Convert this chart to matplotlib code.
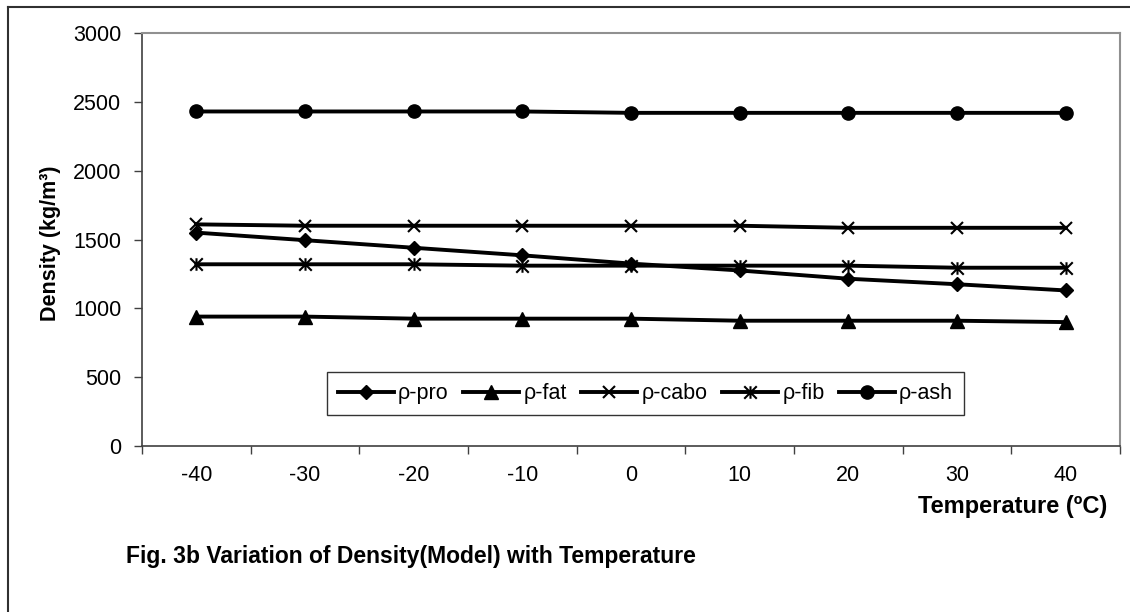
import matplotlib
matplotlib.use("Agg")
import matplotlib.pyplot as plt
from matplotlib.path import Path
from matplotlib.lines import Line2D
import numpy as np

plt.rcParams['font.family'] = ['Liberation Sans', 'DejaVu Sans']
plt.rcParams['axes.unicode_minus'] = False

temperature = [-40, -30, -20, -10, 0, 10, 20, 30, 40]
rho_pro = [1550, 1495, 1440, 1385, 1325, 1275, 1215, 1175, 1130]
rho_fat = [940, 940, 925, 925, 925, 910, 910, 910, 900]
rho_cabo = [1610, 1600, 1600, 1600, 1600, 1600, 1585, 1585, 1585]
rho_fib = [1320, 1320, 1320, 1310, 1310, 1310, 1310, 1295, 1295]
rho_ash = [2430, 2430, 2430, 2430, 2420, 2420, 2420, 2420, 2420]
series_names = ['ρ-pro', 'ρ-fat', 'ρ-cabo', 'ρ-fib', 'ρ-ash']
y_ticks = [0, 500, 1000, 1500, 2000, 2500, 3000]

star = Path([(0, -1), (0, 1), (-1, -1), (1, 1), (-1, 1), (1, -1)],
            [Path.MOVETO, Path.LINETO, Path.MOVETO, Path.LINETO, Path.MOVETO, Path.LINETO])

W, H = 1130, 612
fig = plt.figure(figsize=(W / 100, H / 100), dpi=100)
ax = fig.add_axes([142 / W, 1 - 446 / H, (1120 - 142) / W, (446 - 33) / H])

styles = [
    dict(marker='D', markersize=7.5),
    dict(marker='^', markersize=9.5),
    dict(marker='x', markersize=9, markeredgewidth=1.5),
    dict(marker=star, markersize=9, markeredgewidth=1.5),
    dict(marker='o', markersize=9.5),
]
data = [rho_pro, rho_fat, rho_cabo, rho_fib, rho_ash]
for vals, name, st in zip(data, series_names, styles):
    ax.plot(temperature, vals, color='black', linewidth=2.8, label=name,
            markerfacecolor='black', markeredgecolor='black', **st)

ax.set_xlim(-45, 45)
ax.set_ylim(0, 3000)
ax.set_yticks(y_ticks)
ax.set_xticks(temperature)
ax.set_xticks(np.arange(-45, 46, 10), minor=True)
ax.tick_params(axis='x', which='major', length=0, labelsize=15.5, pad=14)
ax.tick_params(axis='x', which='minor', length=6, width=1, color='#404040', direction='out')
ax.tick_params(axis='y', length=6, width=1, color='#404040', labelsize=15.5, pad=9)

for side in ['top', 'right']:
    ax.spines[side].set_color('#909090')
    ax.spines[side].set_linewidth(1.5)
for side in ['left', 'bottom']:
    ax.spines[side].set_color('#404040')
    ax.spines[side].set_linewidth(1.2)

fig.text(51 / W, 1 - 243 / H, 'Density (kg/m³)', rotation=90, ha='center', va='center',
         fontsize=15.5, fontweight='bold')

leg = ax.legend(ncol=5, loc='lower left', bbox_to_anchor=((327 - 142) / (1120 - 142), (446 - 415) / (446 - 33)),
                frameon=True, fancybox=False, edgecolor='black', fontsize=15.5, handlelength=2.6,
                handletextpad=0.2, columnspacing=0.67, borderpad=0.5, borderaxespad=0)
leg.get_frame().set_linewidth(1.0)

fig.text(1107 / W, 1 - 507 / H, 'Temperature (ºC)', ha='right', va='center',
         fontsize=17, fontweight='bold')
fig.text(126 / W, 1 - 556 / H, 'Fig. 3b Variation of Density(Model) with Temperature',
         ha='left', va='center', fontsize=16.5, fontweight='bold')

# outer chart border
fig.add_artist(Line2D([8 / W, 8 / W], [0, 1 - 7 / H], color='#303030', linewidth=1.5))
fig.add_artist(Line2D([8 / W, 1], [1 - 7 / H, 1 - 7 / H], color='#303030', linewidth=1.5))

fig.savefig('out.png', dpi=100)
